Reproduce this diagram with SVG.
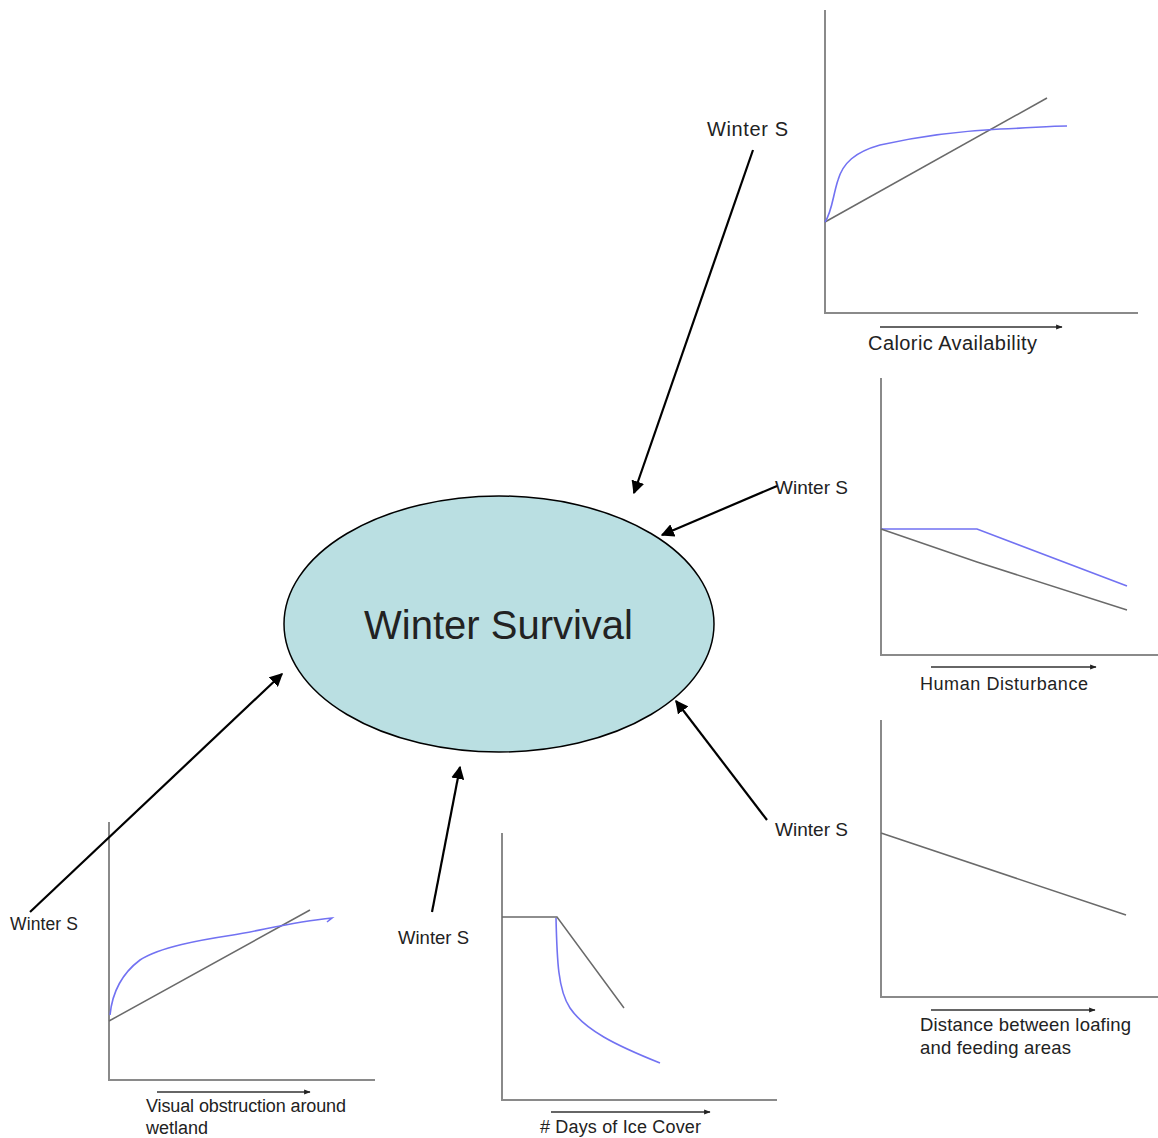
<svg xmlns="http://www.w3.org/2000/svg" width="1158" height="1138" viewBox="0 0 1158 1138">
<style>
text{font-family:"Liberation Sans",Arial,sans-serif;fill:#222}
.ax{stroke:#8a8a8a;stroke-width:2;fill:none}
.bl{stroke:#6a6a6a;stroke-width:1.5;fill:none}
.bu{stroke:#7272f2;stroke-width:1.6;fill:none}
.xa{stroke:#333;stroke-width:1.3;fill:none}
.con{stroke:#000;stroke-width:2.2;fill:none}
</style>
<defs>
<marker id="ah" viewBox="0 0 10 10" refX="9" refY="5" markerWidth="6" markerHeight="6" orient="auto" markerUnits="strokeWidth"><path d="M0,0 L10,5 L0,10 z" fill="#000"/></marker>
<marker id="sa" viewBox="0 0 10 10" refX="9" refY="5" markerWidth="6" markerHeight="5" orient="auto" markerUnits="strokeWidth"><path d="M0,1 L10,5 L0,9 z" fill="#222"/></marker>
</defs>
<rect width="1158" height="1138" fill="#fff"/>

<g id="center">
<ellipse cx="499" cy="624" rx="215" ry="128" fill="#badfe2" stroke="#000" stroke-width="1.5"/>
<text x="364" y="639" font-size="40" textLength="269" fill="#000">Winter Survival</text>
</g>

<g id="chart-caloric">
<path class="ax" d="M825,10 V313 H1138"/>
<line class="xa" x1="880" y1="327" x2="1062" y2="327" marker-end="url(#sa)"/>
<path class="bl" d="M825,222 L1047,98"/>
<path class="bu" d="M825,222 C832,212 833,195 838,180 C843,163 855,152 880,145 C920,136 960,131 1000,129 C1030,128 1050,126 1067,126"/>
<text x="868" y="350" font-size="20" textLength="169">Caloric Availability</text>
<text x="707" y="136" font-size="20" textLength="81">Winter S</text>
</g>

<g id="chart-human">
<path class="ax" d="M881,378 V655 H1158"/>
<line class="xa" x1="931" y1="667" x2="1096" y2="667" marker-end="url(#sa)"/>
<path class="bu" d="M881,529 L977,529 L1127,586"/>
<path class="bl" d="M881,529 L977,562 L1127,610"/>
<text x="920" y="690" font-size="18" textLength="168">Human Disturbance</text>
<text x="775" y="494" font-size="19" textLength="73">Winter S</text>
</g>

<g id="chart-distance">
<path class="ax" d="M881,720 V997 H1158"/>
<line class="xa" x1="931" y1="1010" x2="1095" y2="1010" marker-end="url(#sa)"/>
<path class="bl" d="M881,833 L1126,915"/>
<text x="920" y="1031" font-size="18.5" textLength="211">Distance between loafing</text>
<text x="920" y="1054" font-size="18.5" textLength="151">and feeding areas</text>
<text x="775" y="836" font-size="19" textLength="73">Winter S</text>
</g>

<g id="chart-visual">
<path class="ax" d="M109,822 V1080 H375"/>
<line class="xa" x1="157" y1="1092" x2="310" y2="1092" marker-end="url(#sa)"/>
<path class="bl" d="M109,1021 L310,910"/>
<path class="bu" d="M110,1015 C112,995 120,975 140,960 C160,947 200,940 233,935 C260,931 290,922 332,918 L327,922"/>
<text x="146" y="1112" font-size="18" textLength="200">Visual obstruction around</text>
<text x="146" y="1134" font-size="18" textLength="62">wetland</text>
<text x="10" y="930" font-size="17.5" textLength="68">Winter S</text>
</g>

<g id="chart-ice">
<path class="ax" d="M502,833 V1100 H777"/>
<line class="xa" x1="551" y1="1112" x2="710" y2="1112" marker-end="url(#sa)"/>
<path class="bl" d="M502,917 L557,917 L624,1008"/>
<path class="bu" d="M556,918 C557,960 558,990 570,1008 C585,1030 615,1045 660,1063"/>
<text x="540" y="1133" font-size="18" textLength="161"># Days of Ice Cover</text>
<text x="398" y="944" font-size="18.5" textLength="71">Winter S</text>
</g>

<g id="connectors">
<line class="con" x1="753" y1="150" x2="634" y2="493" marker-end="url(#ah)"/>
<line class="con" x1="777" y1="486" x2="662" y2="535" marker-end="url(#ah)"/>
<line class="con" x1="767" y1="820" x2="676" y2="701" marker-end="url(#ah)"/>
<line class="con" x1="30" y1="912" x2="282" y2="674" marker-end="url(#ah)"/>
<line class="con" x1="432" y1="912" x2="460" y2="767" marker-end="url(#ah)"/>
</g>
</svg>
